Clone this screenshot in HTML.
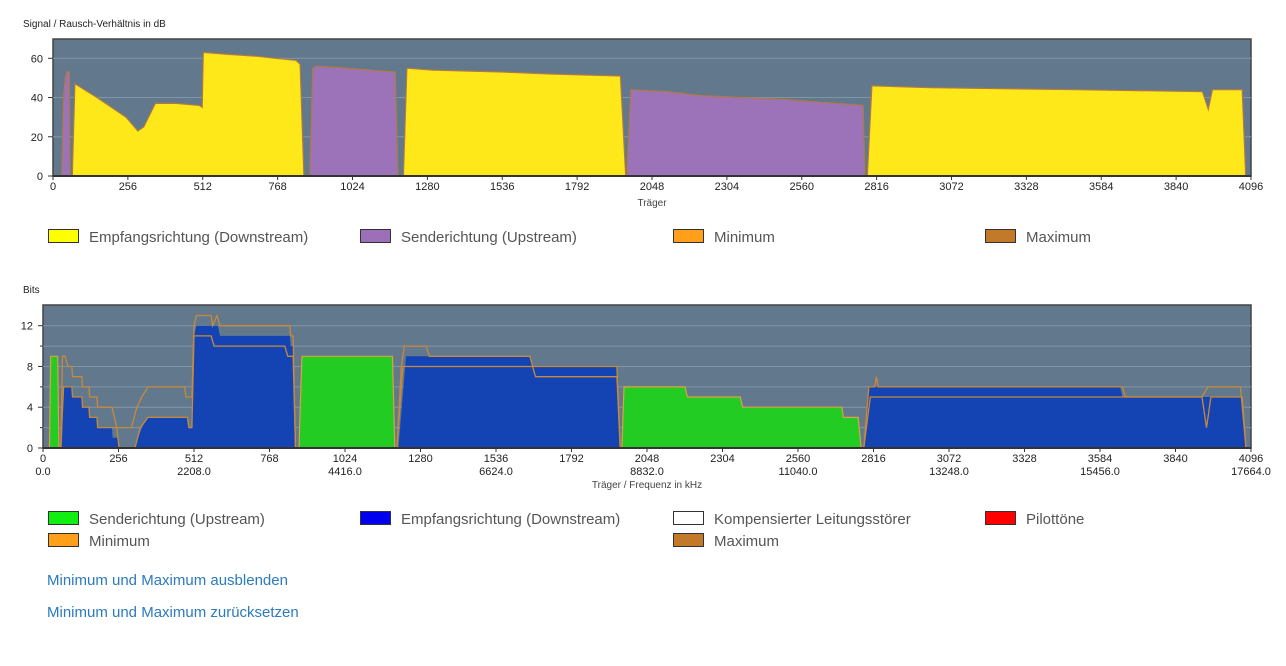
<!DOCTYPE html>
<html><head><meta charset="utf-8"><style>
body{margin:0;background:#fff;width:1286px;height:666px;overflow:hidden;font-family:"Liberation Sans",sans-serif;}
svg{position:absolute;left:0;top:0}
.lg{position:absolute;font-size:15px;color:#555;}
.lg span{display:inline-block;width:29px;height:12px;border:1px solid #333;vertical-align:-1px;margin-right:10px}
.lk{position:absolute;left:47px;font-size:15px;color:#2b7bbd}
</style></head><body>
<svg id="s" width="1286" height="666" xmlns="http://www.w3.org/2000/svg" font-family="Liberation Sans, sans-serif"></svg>
<div class="lg" style="left:48px;top:229px"><span style="background:#ffff00"></span>Empfangsrichtung (Downstream)</div>
<div class="lg" style="left:360px;top:229px"><span style="background:#9c6fb8"></span>Senderichtung (Upstream)</div>
<div class="lg" style="left:673px;top:229px"><span style="background:#ff9f1a"></span>Minimum</div>
<div class="lg" style="left:985px;top:229px"><span style="background:#c27a2a"></span>Maximum</div>
<div class="lg" style="left:48px;top:511px"><span style="background:#11ee11"></span>Senderichtung (Upstream)</div>
<div class="lg" style="left:360px;top:511px"><span style="background:#0000ee"></span>Empfangsrichtung (Downstream)</div>
<div class="lg" style="left:673px;top:511px"><span style="background:#fff"></span>Kompensierter Leitungsstörer</div>
<div class="lg" style="left:985px;top:511px"><span style="background:#ff0000"></span>Pilottöne</div>
<div class="lg" style="left:48px;top:533px"><span style="background:#ff9f1a"></span>Minimum</div>
<div class="lg" style="left:673px;top:533px"><span style="background:#c27a2a"></span>Maximum</div>
<div class="lk" style="top:572px">Minimum und Maximum ausblenden</div>
<div class="lk" style="top:604px">Minimum und Maximum zurücksetzen</div>
<script>
var s=document.getElementById('s'),h='';
var c1={L:53,R:1251,T:39,B:176,py:(176-58.3)/60};
var c2={L:43,R:1251,T:305,B:448,py:(448-325.7)/12};
function X(c,v){return c.L+v*(c.R-c.L)/4096}
function Y(c,v){return c.B-v*c.py}
function poly(c,pts,fill,stroke){var p=pts.map(function(q){return X(c,q[0]).toFixed(1)+','+Y(c,q[1]).toFixed(1)}).join(' ');
 h+='<polygon points="'+p+'" fill="'+fill+'" stroke="'+(stroke||'#b07a45')+'" stroke-width="1.2"/>';}
function line(c,pts,col){var p=pts.map(function(q){return X(c,q[0]).toFixed(1)+','+Y(c,q[1]).toFixed(1)}).join(' ');
 h+='<polyline points="'+p+'" fill="none" stroke="'+col+'" stroke-width="1.3"/>';}
function frame(c,grid){
 h+='<rect x="'+c.L+'" y="'+c.T+'" width="'+(c.R-c.L)+'" height="'+(c.B-c.T)+'" fill="#62788d" stroke="#444" stroke-width="1.5"/>';
 grid.forEach(function(v){h+='<line x1="'+c.L+'" x2="'+c.R+'" y1="'+Y(c,v)+'" y2="'+Y(c,v)+'" stroke="#8195a8" stroke-width="1"/>';});
}
function axes(c,ylabs,minor,second,title){
 h+='<line x1="'+c.L+'" x2="'+c.R+'" y1="'+c.B+'" y2="'+c.B+'" stroke="#333" stroke-width="2"/>';
 ylabs.forEach(function(v){h+='<text x="'+(c.L-10)+'" y="'+(Y(c,v)+4)+'" font-size="11" text-anchor="end" fill="#222">'+v+'</text><line x1="'+(c.L-5)+'" x2="'+c.L+'" y1="'+Y(c,v)+'" y2="'+Y(c,v)+'" stroke="#333"/>';});
 minor.forEach(function(v){h+='<line x1="'+(c.L-3)+'" x2="'+c.L+'" y1="'+Y(c,v)+'" y2="'+Y(c,v)+'" stroke="#333"/>';});
 for(var i=0;i<=16;i++){var v=i*256,x=X(c,v);
  h+='<line x1="'+x+'" x2="'+x+'" y1="'+c.B+'" y2="'+(c.B+4)+'" stroke="#333"/>';
  h+='<text x="'+x+'" y="'+(c.B+14)+'" font-size="11" text-anchor="middle" fill="#222">'+v+'</text>';
  if(second&&i%2==0)h+='<text x="'+x+'" y="'+(c.B+27)+'" font-size="11" text-anchor="middle" fill="#222">'+(v*4.3125).toFixed(1)+'</text>';}
 h+='<text x="'+((c.L+c.R)/2)+'" y="'+(c.B+(second?40:30))+'" font-size="10" text-anchor="middle" fill="#444">'+title+'</text>';
}
// Chart 1
h+='<text x="23" y="27" font-size="10" fill="#222">Signal / Rausch-Verhältnis in dB</text>';
frame(c1,[20,40,60]);
var Y1='#ffe81a',P1='#9c72b8';
poly(c1,[[30,0],[36,40],[42,50],[48,53],[56,53],[58,0]],P1);
poly(c1,[[66,0],[75,47],[150,40],[250,30],[290,23],[310,25],[350,37],[420,37],[500,36],[510,35],[514,63],[600,62],[700,61],[760,60],[830,59],[845,57],[858,0]],Y1);
poly(c1,[[878,0],[888,55],[900,56],[1000,55],[1170,53],[1180,0]],P1);
poly(c1,[[1198,0],[1210,55],[1300,54],[1536,53],[1700,52],[1940,51],[1958,0]],Y1);
poly(c1,[[1962,0],[1976,44],[2100,43],[2212,41],[2500,39],[2770,36],[2776,0]],P1);
poly(c1,[[2784,0],[2800,46],[3000,45],[3500,44],[3930,43],[3950,34],[3964,44],[4066,44],[4078,0]],Y1);
axes(c1,[0,20,40,60],[],false,'Träger');
// Chart 2
h+='<text x="23" y="293" font-size="10" fill="#222">Bits</text>';
frame(c2,[2,4,6,8,10,12]);
var G='#22cc22',B='#1443b4';
poly(c2,[[22,0],[26,9],[50,9],[54,0]],G,'#e0a040');
poly(c2,[[64,0],[70,6],[98,6],[100,5],[132,5],[134,4],[156,4],[158,3],[183,3],[185,2],[234,2],[236,1],[254,1],[258,0],[312,0],[322,1],[335,2],[356,3],[488,3],[492,2],[505,2],[512,11],[520,12],[593,12],[600,11],[837,11],[840,10],[848,10],[854,0]],B,'none');
poly(c2,[[868,0],[878,9],[1185,9],[1193,0]],G,'#e0a040');
poly(c2,[[1205,0],[1231,9],[1651,9],[1660,8],[1946,8],[1957,0]],B,'none');
poly(c2,[[1963,0],[1970,6],[2177,6],[2185,5],[2364,5],[2372,4],[2709,4],[2714,3],[2764,3],[2774,0]],G,'#e0a040');
poly(c2,[[2783,0],[2800,6],[3652,6],[3660,5],[4066,5],[4079,0]],B,'none');
var O='#c8893a';
line(c2,[[60,0],[66,9],[75,9],[85,8],[98,8],[100,7],[132,7],[134,6],[156,6],[158,5],[183,5],[185,4],[234,4],[250,2],[300,2],[318,4],[335,5],[356,6],[480,6],[485,5],[505,5],[512,12],[520,13],[570,13],[575,12],[590,13],[600,12],[837,12],[840,11],[848,11],[856,0]],O);
line(c2,[[60,0],[70,6],[98,6],[100,5],[132,5],[134,4],[156,4],[158,3],[183,3],[185,2],[250,2],[254,1],[258,0],[312,0],[330,2],[356,3],[490,3],[495,2],[505,2],[512,11],[570,11],[580,10],[820,10],[830,9],[848,9],[856,0]],O);
line(c2,[[1200,0],[1215,8],[1225,10],[1300,10],[1310,9],[1651,9],[1660,8],[1946,8],[1957,0]],O);
line(c2,[[1200,0],[1220,8],[1660,8],[1670,7],[1946,7],[1957,0]],O);
line(c2,[[2783,0],[2800,6],[2820,6],[2826,7],[2832,6],[3660,6],[3670,5],[3930,5],[3950,6],[4060,6],[4079,0]],O);
line(c2,[[2783,0],[2805,5],[3930,5],[3945,2],[3960,5],[4066,5],[4079,0]],O);
axes(c2,[0,4,8,12],[2,6,10],true,'Träger / Frequenz in kHz');
s.innerHTML=h;
</script>
</body></html>
